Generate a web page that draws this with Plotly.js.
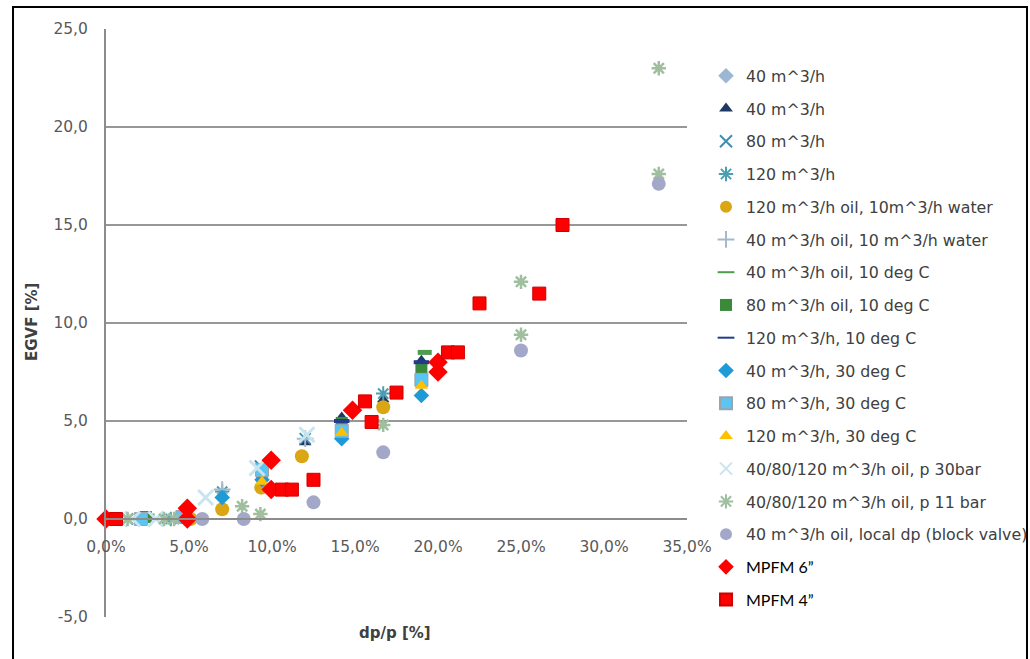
<!DOCTYPE html>
<html>
<head>
<meta charset="utf-8">
<script src="https://cdn.plot.ly/plotly-3.0.1.min.js"></script>
<style>html,body{margin:0;padding:0;background:#fff;}#chart{width:1030px;height:659px;}</style>
</head>
<body>
<div id="chart"></div>
<script>
// Series names
const seriesNames = [
  "40 m^3/h",
  "40 m^3/h",
  "80 m^3/h",
  "120 m^3/h",
  "120 m^3/h oil, 10m^3/h water",
  "40 m^3/h oil, 10 m^3/h water",
  "40 m^3/h oil, 10 deg C",
  "80 m^3/h oil, 10 deg C",
  "120 m^3/h, 10 deg C",
  "40 m^3/h, 30 deg C",
  "80 m^3/h, 30 deg C",
  "120 m^3/h, 30 deg C",
  "40/80/120 m^3/h oil, p 30bar",
  "40/80/120 m^3/h oil, p 11 bar",
  "40 m^3/h oil, local dp (block valve)",
  "MPFM 6\u201D",
  "MPFM 4\u201D"
];

// dp/p [%] and EGVF [%] for each series
const s1x = [2.2, 7.0, 9.4, 14.2, 19.0];
const s1y = [0.0, 1.3, 2.3, 4.8, 7.3];
const s2x = [9.4, 12.0, 14.2, 16.7, 19.0];
const s2y = [2.2, 3.9, 5.2, 6.1, 8.1];
const s3x = [1.3, 3.6, 9.3, 12.0];
const s3y = [0.0, 0.0, 2.7, 4.1];
const s4x = [3.9, 7.0, 16.7];
const s4y = [0.0, 1.4, 6.4];
const s5x = [5.1, 7.0, 9.35, 11.8, 16.7];
const s5y = [0.0, 0.5, 1.6, 3.2, 5.7];
const s6x = [7.0, 12.0];
const s6y = [1.5, 4.1];
const s7x = [2.5, 4.8, 19.2];
const s7y = [0.15, 0.3, 8.5];
const s8x = [2.4, 14.2, 19.0];
const s8y = [0.1, 4.9, 7.6];
const s9x = [14.2, 19.0];
const s9y = [5.0, 8.0];
const s10x = [7.0, 9.4, 14.2, 19.0];
const s10y = [1.1, 2.0, 4.1, 6.3];
const s11x = [2.1, 4.6, 9.4, 14.2, 19.0];
const s11y = [0.0, 0.1, 2.5, 4.5, 7.1];
const s12x = [5.2, 9.4, 14.2, 19.0];
const s12y = [0.0, 1.9, 4.4, 6.8];
const s13x = [1.6, 3.0, 6.0, 9.1, 12.1];
const s13y = [0.0, 0.0, 1.1, 2.6, 4.3];
const s14x = [1.3, 3.5, 4.1, 8.2, 9.3, 16.7, 25.0, 25.0, 33.3, 33.3];
const s14y = [0.0, 0.0, 0.0, 0.65, 0.25, 4.8, 12.1, 9.4, 23.0, 17.6];
const s15x = [5.8, 8.3, 12.5, 16.7, 25.0, 33.3];
const s15y = [0.0, 0.0, 0.85, 3.4, 8.6, 17.1];
const s16x = [0.0, 4.9, 4.9, 9.95, 9.95, 14.85, 20.0, 20.0];
const s16y = [0.0, 0.55, 0.0, 3.0, 1.5, 5.55, 8.0, 7.5];
const s17x = [0.6, 10.6, 11.2, 12.5, 15.6, 16.0, 17.5, 20.6, 21.2, 22.5, 26.1, 27.5];
const s17y = [0.0, 1.5, 1.5, 2.0, 6.0, 4.95, 6.45, 8.5, 8.5, 11.0, 11.5, 15.0];

const yTicks = [-5, 0, 5, 10, 15, 20, 25];
const yTickText = ["-5,0", "0,0", "5,0", "10,0", "15,0", "20,0", "25,0"];
const xTicks = [0, 5, 10, 15, 20, 25, 30, 35];
const xTickText = ["0,0%", "5,0%", "10,0%", "15,0%", "20,0%", "25,0%", "30,0%", "35,0%"];

const xs = [s1x,s2x,s3x,s4x,s5x,s6x,s7x,s8x,s9x,s10x,s11x,s12x,s13x,s14x,s15x,s16x,s17x];
const ys = [s1y,s2y,s3y,s4y,s5y,s6y,s7y,s8y,s9y,s10y,s11y,s12y,s13y,s14y,s15y,s16y,s17y];

const markers = [
  {symbol:'diamond', size:9, color:'#9bb7d4'},
  {symbol:'triangle-up', size:11, color:'#1f3864'},
  {symbol:'x-thin-open', size:11, color:'#3b8fb3', line:{color:'#3b8fb3', width:2}},
  {symbol:'asterisk-open', size:12, color:'#4a9eb0', line:{color:'#4a9eb0', width:2}},
  {symbol:'circle', size:14, color:'#dba614'},
  {symbol:'cross-thin-open', size:12, color:'#a6b8cc', line:{color:'#a6b8cc', width:2}},
  {symbol:'line-ew-open', size:10, color:'#4f9b4f', line:{color:'#4f9b4f', width:5}},
  {symbol:'square', size:12, color:'#3a8a3a'},
  {symbol:'line-ew-open', size:11, color:'#1f3d8a', line:{color:'#1f3d8a', width:4}},
  {symbol:'diamond', size:12, color:'#1e9bd7'},
  {symbol:'square', size:13, color:'#5bc4f0', line:{color:'#9aa4ac', width:1}},
  {symbol:'triangle-up', size:12, color:'#ffc000'},
  {symbol:'x-thin-open', size:15, color:'#c8e4ee', line:{color:'#c8e4ee', width:3}},
  {symbol:'asterisk-open', size:12, color:'#9fbf9f', line:{color:'#9fbf9f', width:2.5}},
  {symbol:'circle', size:14, color:'#a3a8c8'},
  {symbol:'diamond', size:15, color:'#ff0000'},
  {symbol:'square', size:13, color:'#ff0000', line:{color:'#d00000', width:1}}
];

const traces = seriesNames.map((n, i) => {
  const label = i >= 15
    ? '<span style="font-family:Lato, \'Liberation Sans\', sans-serif;font-size:16px;color:#000">' + n + '</span>'
    : n;
  return {
    type:'scatter', mode:'markers', x: xs[i], y: ys[i], name: label,
    legendgroup: 'g' + i, cliponaxis:false,
    marker: markers[i]
  };
});

const PL = 106, PR = 687, PT = 29, PB = 617;
const W = PR - PL, H = PB - PT;
const px = v => (v - PL) / W;
const py = v => (PB - v) / H;

const layout = {
  width:1030, height:659,
  margin:{l:PL, r:1030-PR, t:PT, b:659-PB, pad:0, autoexpand:false},
  paper_bgcolor:'#fff', plot_bgcolor:'#fff',
  separators: ', ',
  font:{family:'DejaVu Sans, Verdana, sans-serif', color:'#595959', size:15},
  showlegend:true,
  legend:{x:px(706), xanchor:'left', y:py(59), yanchor:'top', tracegroupgap:9.2,
          itemsizing:'constant',
          font:{size:15.8, color:'#404040'}, bgcolor:'rgba(0,0,0,0)', itemwidth:30},
  xaxis:{range:[0,35], tickvals:xTicks, ticktext:xTickText, showgrid:false, automargin:false,
         zeroline:false, showline:true, linecolor:'#8c8c8c', linewidth:2,
         anchor:'free', position:5/30, ticks:'', ticklabelstandoff:13,
         tickfont:{size:15.5, color:'#595959'}},
  yaxis:{range:[-5,25], tickvals:yTicks, ticktext:yTickText, showgrid:true, gridcolor:'#979797', gridwidth:2,
         automargin:false,
         zeroline:false, showline:true, linecolor:'#8c8c8c', linewidth:2, ticks:'',
         ticklabelstandoff:13, tickfont:{size:15.5, color:'#595959'}},
  shapes:[
    {type:'rect', xref:'paper', yref:'paper', x0:px(13), x1:px(1027), y0:py(666), y1:py(7),
     line:{color:'#000', width:2}, fillcolor:'rgba(0,0,0,0)', layer:'below'}
  ],
  annotations:[
    {text:'<b>EGVF [%]</b>', xref:'paper', yref:'paper', x:px(32), y:py(322), showarrow:false,
     textangle:-90, font:{size:15, color:'#404040'}, xanchor:'center', yanchor:'middle'},
    {text:'<b>dp/p [%]</b>', xref:'paper', yref:'paper', x:px(395), y:py(633), showarrow:false,
     font:{size:15, color:'#404040'}, xanchor:'center', yanchor:'middle'}
  ]
};

Plotly.newPlot('chart', traces, layout, {displayModeBar:false, staticPlot:true});
</script>
</body>
</html>
